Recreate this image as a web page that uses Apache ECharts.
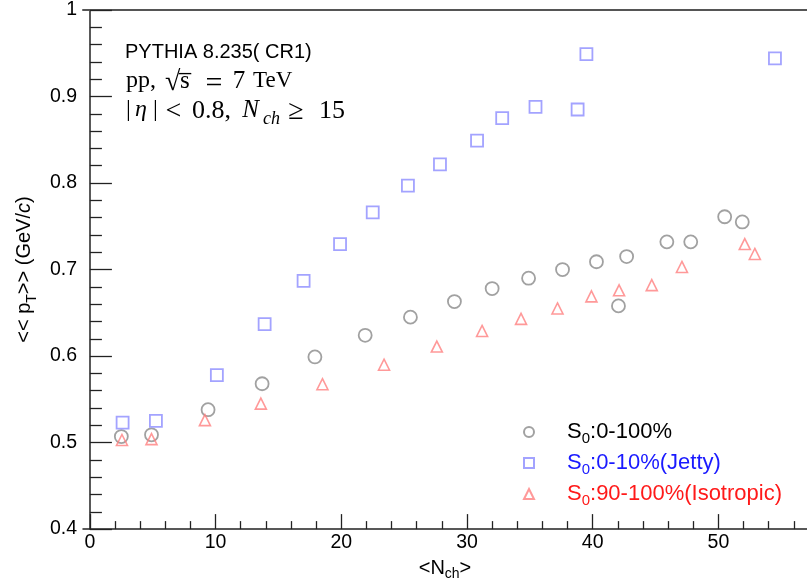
<!DOCTYPE html>
<html>
<head>
<meta charset="utf-8">
<script src="https://cdn.jsdelivr.net/npm/echarts@6.0.0/dist/echarts.min.js"></script>
<style>
  html, body { margin: 0; padding: 0; background: #fff; }
  #chart { width: 807px; height: 586px; }
</style>
</head>
<body>
<div id="chart"></div>
<script>
// S0 0-100% (grey circles)
var allX = [2.5, 4.9, 9.4, 13.7, 17.9, 21.9, 25.5, 29.0, 32.0, 34.9, 37.6, 40.3, 42.05, 42.7, 45.9, 47.8, 50.5, 51.9]
var allY = [0.507, 0.509, 0.538, 0.568, 0.599, 0.624, 0.645, 0.663, 0.678, 0.690, 0.700, 0.709, 0.658, 0.715, 0.732, 0.732, 0.761, 0.755]
// S0 0-10% jetty (blue squares)
var jettyX = [2.6, 5.25, 10.1, 13.9, 17.0, 19.9, 22.5, 25.3, 27.85, 30.8, 32.8, 35.45, 38.8, 39.5, 54.5]
var jettyY = [0.523, 0.525, 0.578, 0.637, 0.687, 0.7295, 0.766, 0.797, 0.8215, 0.849, 0.875, 0.888, 0.885, 0.949, 0.944]
// S0 90-100% isotropic (red triangles)
var isoX = [2.55, 4.9, 9.15, 13.6, 18.5, 23.4, 27.6, 31.2, 34.3, 37.2, 39.9, 42.1, 44.7, 47.1, 52.1, 52.9]
var isoY = [0.503, 0.504, 0.526, 0.545, 0.5675, 0.590, 0.611, 0.629, 0.643, 0.655, 0.669, 0.676, 0.682, 0.703, 0.7295, 0.718]

var xMajor = [0, 10, 20, 30, 40, 50]
var xMinor = [2, 4, 6, 8, 12, 14, 16, 18, 22, 24, 26, 28, 32, 34, 36, 38, 42, 44, 46, 48, 52, 54, 56]
var yMajor = [0.4, 0.5, 0.6, 0.7, 0.8, 0.9, 1.0]
var yMinor = [0.42, 0.44, 0.46, 0.48, 0.52, 0.54, 0.56, 0.58, 0.62, 0.64, 0.66, 0.68,
              0.72, 0.74, 0.76, 0.78, 0.82, 0.84, 0.86, 0.88, 0.92, 0.94, 0.96, 0.98]

var names = ['S0:0-100%', 'S0:0-10%(Jetty)', 'S0:90-100%(Isotropic)']

function pairs(xs, ys) {
  var out = []
  for (var i = 0; i < xs.length; i++) out.push([xs[i], ys[i]])
  return out
}

var sans = 'Liberation Sans'
var serif = 'Liberation Serif'
var axisColor = '#222'
var xMin = -0.55, xMax = 57.05

// helper for the latex-like text styles
function tok(size, width, align, italic) {
  var s = { fontSize: size, fontFamily: serif, lineHeight: 28, verticalAlign: 'top' }
  if (width) s.width = width
  if (align) s.align = align
  if (italic) s.fontStyle = 'italic'
  return s
}

var chart = echarts.init(document.getElementById('chart'))

var option = {
  animation: false,
  grid: { left: 83, right: 0, top: 8, bottom: 56 },
  xAxis: [
    {
      type: 'value', min: xMin, max: xMax, position: 'bottom',
      axisLine: { lineStyle: { color: axisColor, width: 1.5 } },
      axisTick: { inside: true, length: 15, customValues: xMajor, lineStyle: { color: axisColor, width: 1.3 } },
      axisLabel: { customValues: xMajor, margin: 4, color: '#000', fontSize: 19.5, fontFamily: sans },
      splitLine: { show: false },
      name: '{m|<N}{s|ch}{m|>}',
      nameLocation: 'middle', nameGap: 26,
      nameTextStyle: {
        color: '#000', fontFamily: sans,
        rich: {
          m: { fontSize: 20, fontFamily: sans, lineHeight: 20, verticalAlign: 'top' },
          s: { fontSize: 14, fontFamily: sans, lineHeight: 14, padding: [9, 0, 0, 0], verticalAlign: 'top' }
        }
      }
    },
    {
      type: 'value', min: xMin, max: xMax, position: 'bottom',
      axisLine: { show: false },
      axisTick: { inside: true, length: 8, customValues: xMinor, lineStyle: { color: axisColor, width: 1.3 } },
      axisLabel: { show: false },
      splitLine: { show: false }
    },
    {
      type: 'value', min: xMin, max: xMax, position: 'top',
      axisLine: { lineStyle: { color: '#555', width: 2 } },
      axisTick: { show: false }, axisLabel: { show: false }, splitLine: { show: false }
    }
  ],
  yAxis: [
    {
      type: 'value', min: 0.4, max: 1.0, position: 'left',
      axisLine: { show: true, lineStyle: { color: axisColor, width: 1.5 } },
      axisTick: { inside: true, length: 22, customValues: yMajor, lineStyle: { color: axisColor, width: 1.3 } },
      axisLabel: {
        customValues: yMajor, margin: 6, color: '#000', fontSize: 19.5, fontFamily: sans,
        formatter: function (v) { return v >= 0.999 ? '1' : v.toFixed(1) }
      },
      splitLine: { show: false },
      name: '{m|<< p}{s|T}{m|>> (GeV/}{i|c}{m|)}',
      nameLocation: 'middle', nameRotate: 90, nameGap: 46,
      nameTextStyle: {
        color: '#000', fontFamily: sans,
        rich: {
          m: { fontSize: 20, fontFamily: sans, lineHeight: 22, verticalAlign: 'top' },
          i: { fontSize: 20, fontFamily: sans, fontStyle: 'italic', lineHeight: 22, verticalAlign: 'top' },
          s: { fontSize: 14, fontFamily: sans, lineHeight: 14, padding: [11, 0, 0, 0], verticalAlign: 'top' }
        }
      }
    },
    {
      type: 'value', min: 0.4, max: 1.0, position: 'left',
      axisLine: { show: false },
      axisTick: { inside: true, length: 12, customValues: yMinor, lineStyle: { color: axisColor, width: 1.3 } },
      axisLabel: { show: false },
      splitLine: { show: false }
    }
  ],
  legend: {
    orient: 'vertical', left: 518, top: 416, itemGap: 6,
    itemWidth: 10, itemHeight: 10,
    formatter: function (name) {
      return '{g| }{m|S}{s|0}{m|' + name.slice(2) + '}'
    },
    textStyle: {
      fontFamily: sans,
      rich: {
        g: { width: 28, fontSize: 22, lineHeight: 22, verticalAlign: 'top' },
        m: { fontSize: 22, fontFamily: sans, lineHeight: 22, verticalAlign: 'top' },
        s: { fontSize: 15, fontFamily: sans, lineHeight: 15, padding: [10, 0, 0, 0], verticalAlign: 'top' }
      }
    },
    data: [
      { name: names[0], icon: 'circle', textStyle: { color: '#000' } },
      { name: names[1], icon: 'rect', textStyle: { color: '#1a1aff' } },
      { name: names[2], icon: 'triangle', textStyle: { color: '#ff1a1a' } }
    ]
  },
  graphic: [
    {
      type: 'text', x: 125, y: 52,
      style: { text: 'PYTHIA 8.235( CR1)', fontSize: 20, fontFamily: sans, fill: '#000', verticalAlign: 'middle' }
    },
    {
      type: 'text', x: 126, y: 83,
      style: {
        text: '{a|pp,}{b|\u221A}{c|s\u0305}{d|=}{e|7}{f|TeV}',
        fill: '#000', verticalAlign: 'middle',
        rich: {
          a: tok(24, 39, 'left'),
          b: tok(28, 15, 'left'),
          c: tok(25, 23, 'left'),
          d: tok(30, 22, 'center'),
          e: tok(25, 28, 'center'),
          f: tok(23)
        }
      }
    },
    {
      type: 'text', x: 126, y: 112,
      style: {
        text: '{a||}{b|\u03B7}{c||}{d|<}{e|0.8,}{f|N}{s|ch}{g|\u2265}{h|15}',
        fill: '#000', verticalAlign: 'middle',
        rich: {
          a: tok(24, 9, 'left'),
          b: tok(24, 18, 'left', true),
          c: tok(24, 11, 'left'),
          d: tok(28, 19, 'center'),
          e: tok(26, 57, 'center'),
          f: tok(25, 21, 'left', true),
          s: { fontSize: 18, fontFamily: serif, fontStyle: 'italic', width: 21, lineHeight: 17, padding: [12, 0, 0, 0], verticalAlign: 'top' },
          g: tok(28, 28, 'center'),
          h: tok(26, 35, 'right')
        }
      }
    }
  ],
  series: [
    {
      name: names[0], type: 'scatter', symbol: 'circle', symbolSize: 13,
      data: pairs(allX, allY),
      itemStyle: { color: 'rgba(255,255,255,0)', borderColor: '#8a8a8a', borderWidth: 1.8 }
    },
    {
      name: names[1], type: 'scatter', symbol: 'rect', symbolSize: 12,
      data: pairs(jettyX, jettyY),
      itemStyle: { color: 'rgba(255,255,255,0)', borderColor: '#8c8cff', borderWidth: 1.8 }
    },
    {
      name: names[2], type: 'scatter', symbol: 'triangle', symbolSize: 11,
      data: pairs(isoX, isoY),
      itemStyle: { color: 'rgba(255,255,255,0)', borderColor: '#ff8080', borderWidth: 1.6 }
    }
  ]
}

chart.setOption(option)
</script>
</body>
</html>
